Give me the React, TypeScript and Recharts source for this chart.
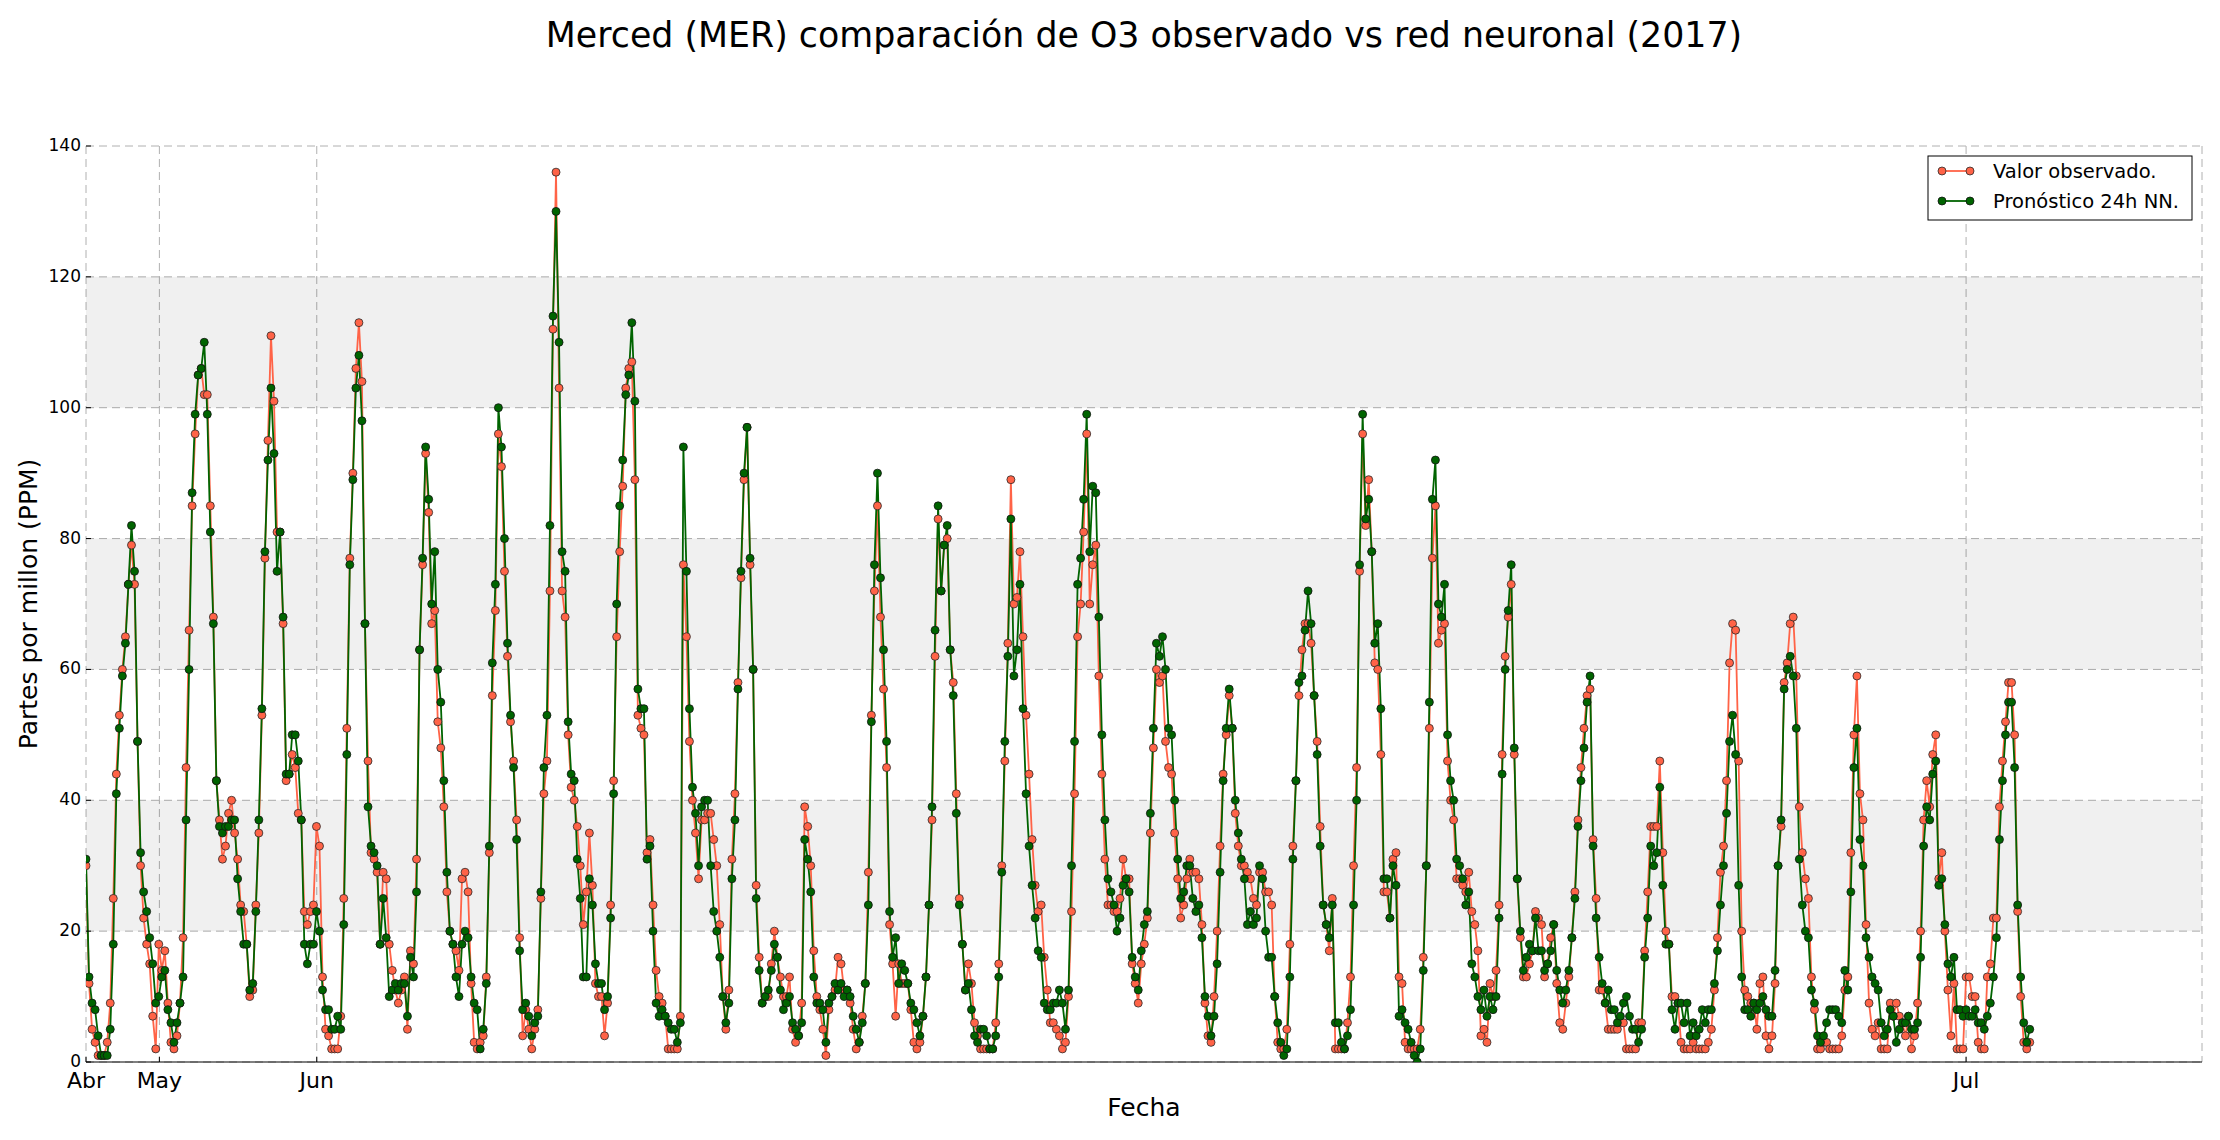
import React from 'react';
import { LineChart, Line, XAxis, YAxis, CartesianGrid, ReferenceArea } from 'recharts';

// Observed O3 (Valor observado.)
const observed: number[] = [
  30,12,5,3,1,1,1,3,9,25,
  44,53,60,65,73,79,73,49,30,22,
  18,15,7,2,18,14,17,9,3,
  2,4,9,19,45,66,85,96,105,106,
  102,102,85,68,43,37,31,33,38,40,
  35,31,24,23,18,10,11,24,
  35,53,77,95,111,101,81,81,67,43,44,47,45,38,37,
  23,21,23,24,36,33,13,5,4,2,2,2,7,
  25,51,77,90,106,113,104,67,46,32,
  31,29,18,29,28,18,14,11,9,
  11,13,5,17,15,31,63,76,93,84,
  67,69,52,48,39,26,20,18,17,14,
  28,29,26,12,3,2,3,4,13,32,
  56,69,96,91,75,62,52,46,37,19,
  4,8,5,2,5,8,25,41,46,72,
  112,136,103,72,68,50,42,40,36,30,
  21,26,35,27,12,10,10,4,9,24,
  43,65,78,88,103,106,107,89,53,51,
  50,32,34,24,14,10,9,7,2,2,
  2,2,7,76,65,49,40,35,28,37,
  37,38,38,34,30,21,10,5,11,31,
  41,
  58,74,89,97,76,60,27,16,9,10,
  10,15,20,16,13,10,10,13,5,3,
  4,9,39,36,30,17,10,8,5,1,
  8,10,11,16,15,11,11,9,5,2,
  3,7,12,29,53,72,85,68,57,45,
  21,15,7,15,12,12,12,8,3,2,
  3,7,13,24,37,62,83,72,79,80,
  63,
  58,41,25,18,11,15,12,6,4,2,
  2,2,2,2,6,15,30,46,64,89,
  70,71,78,65,53,44,34,27,23,24,
  16,11,6,6,5,4,2,3,10,23,
  41,65,70,81,96,70,76,79,59,44,
  31,24,24,23,23,25,31,28,28,15,
  12,9,15,18,22,35,48,60,
  58,59,49,45,44,35,28,22,24,28,
  31,29,29,28,21,9,4,3,10,20,
  33,44,50,56,51,38,33,30,30,29,
  28,25,24,29,29,26,26,24,10,3,
  2,2,5,18,33,43,56,63,67,67,
  64,56,49,36,24,21,17,25,2,2,
  2,2,6,13,30,45,75,96,82,89,
  78,61,60,47,26,
  26,22,31,32,13,12,3,2,2,2,
  2,5,16,30,51,77,85,64,66,67,
  46,40,37,28,28,27,26,29,23,21,
  17,4,5,3,12,10,14,24,47,62,
  68,73,47,28,19,13,13,15,17,23,
  22,21,13,15,19,21,12,6,5,9,
  13,19,26,37,45,51,56,57,34,25,
  11,
  11,9,5,5,5,5,6,6,2,2,
  2,2,6,6,17,26,36,36,36,46,
  32,20,18,10,10,9,3,2,2,2,
  3,2,2,2,2,3,5,11,19,29,
  33,43,61,67,66,46,20,11,10,9,9,
  5,12,13,4,2,4,12,30,36,58,
  61,67,68,59,39,32,28,25,
  13,8,2,2,3,3,2,2,2,2,
  4,11,13,32,50,59,41,37,21,9,
  5,4,6,2,2,2,9,7,9,7,6,
  4,7,2,4,9,20,37,43,39,47,
  50,28,32,20,11,4,12,2,2,2,13,
  13,10,10,3,2,2,13,15,22,22,
  39,46,52,58,58,50,23,10,3,
  2,3,
];

// 24h neural network forecast (Pronóstico 24h NN.)
const forecast: number[] = [
  31,13,9,8,4,1,1,1,5,18,
  41,51,59,64,73,82,75,49,32,26,
  23,19,15,9,10,13,14,8,6,
  3,6,9,13,37,60,87,99,105,106,
  110,99,81,67,43,36,35,36,36,37,
  37,28,23,18,18,11,12,23,
  37,54,78,92,103,93,75,81,68,44,44,50,50,46,37,
  18,15,18,18,23,20,11,8,8,5,5,7,5,
  21,47,76,89,103,108,98,67,39,33,
  32,30,18,25,19,10,11,12,11,
  12,12,7,16,13,26,63,77,94,86,
  70,78,60,55,43,29,20,18,13,10,
  18,20,19,13,9,8,2,5,12,33,
  61,73,100,94,80,64,53,45,34,17,
  8,9,7,4,6,7,26,45,53,82,
  114,130,110,78,75,52,44,43,31,25,
  13,13,28,24,15,12,12,8,10,22,
  41,70,85,92,102,105,113,101,57,54,
  54,31,33,20,9,7,8,7,6,5,
  5,3,6,94,75,54,42,38,30,39,
  40,40,30,23,20,16,10,6,9,28,
  37,
  57,75,90,97,77,60,25,14,9,10,
  11,14,18,16,11,8,9,10,6,5,
  4,6,34,31,26,13,9,9,8,3,
  9,10,12,11,12,10,11,10,7,5,
  3,6,12,24,52,76,90,74,63,49,
  23,16,19,12,15,14,12,9,8,6,
  4,7,13,24,39,66,85,72,79,82,
  63,
  56,38,24,18,11,12,8,4,3,5,
  5,4,2,2,4,13,29,49,62,83,
  59,63,73,54,41,33,27,22,17,16,
  9,8,8,9,9,11,9,5,11,30,
  49,73,77,86,99,78,88,87,68,50,
  37,28,26,24,20,22,27,28,26,16,
  13,11,17,21,23,38,51,64,
  62,65,60,51,50,40,31,25,26,30,
  30,25,23,24,19,10,7,4,7,15,
  29,43,51,57,51,40,35,31,28,21,
  23,21,22,30,28,20,16,16,10,6,
  3,1,2,13,31,43,58,59,66,72,
  67,56,47,33,24,21,19,24,6,6,
  3,2,4,8,24,40,76,99,83,86,
  78,64,67,54,28,
  28,22,30,27,7,8,6,5,3,1,
  0,2,14,30,55,86,92,70,68,73,
  50,43,40,31,30,28,24,26,15,13,
  10,8,11,7,10,8,10,22,44,60,
  69,76,48,28,20,14,16,18,17,22,
  17,17,14,15,17,21,14,11,9,11,
  14,19,25,36,43,48,55,59,33,22,
  16,
  12,9,11,8,8,6,7,9,10,7,
  5,5,3,5,16,22,33,30,32,42,
  27,18,18,8,5,9,9,6,9,4,
  6,4,5,8,6,8,8,12,17,24,
  30,38,49,53,47,27,13,8,8,7,9,
  8,9,10,8,7,7,14,30,37,57,
  60,62,59,51,31,24,20,19,
  11,9,4,3,4,6,8,8,8,7,
  6,14,11,26,45,51,34,30,19,16,
  13,12,11,6,4,5,8,7,3,5,6,
  6,7,5,5,6,16,33,39,37,44,
  46,27,28,21,15,13,16,8,8,7,8,
  7,7,8,6,6,5,7,9,13,19,
  34,43,50,55,55,45,24,13,6,
  3,5,
];

const monthLabels = ['Abr', 'May', 'Jun', 'Jul'];
const monthTicks = [0, 24.2, 76.1, 620];
const xMax = 697.8;
const yTicks = [0, 20, 40, 60, 80, 100, 120, 140];
const bandLow = [20, 60, 100];
const bandHigh = [40, 80, 120];

const data = observed.map((v, i) => ({ i, obs: v, pred: forecast[i] }));

const W = 2204;
const H = 1124;
const PL = 78;
const PR = 2194;
const PT = 138;
const PB = 1054;
const FONT = '"DejaVu Sans", Verdana, sans-serif';
const OBS_COLOR = '#ff6347';
const PRED_COLOR = '#006400';

const YTick = (props: any) => {
  const { y, payload } = props;
  return (
    <g>
      <line x1={PL} x2={PL + 5} y1={y} y2={y} stroke="#000" strokeWidth={1} />
      <text x={PL - 5} y={y + 5} textAnchor="end" fontSize={17} fontFamily={FONT} fill="#000">
        {payload.value}
      </text>
    </g>
  );
};

const XTick = (props: any) => {
  const { x, payload } = props;
  const idx = monthTicks.indexOf(payload.value);
  return (
    <g>
      <line x1={x} x2={x} y1={PB} y2={PB - 5} stroke="#000" strokeWidth={1} />
      <text x={x} y={PB + 26} textAnchor="middle" fontSize={22} fontFamily={FONT} fill="#000">
        {monthLabels[idx]}
      </text>
    </g>
  );
};

export default function App() {
  const legendX = 1920;
  const legendY = 148;
  return (
    <div style={{ position: 'relative', width: W, height: H, background: '#fff' }}>
      <LineChart
        width={W}
        height={H}
        data={data}
        margin={{ top: PT, right: W - PR, bottom: 0, left: 0 }}
      >
        <CartesianGrid stroke="#b0b0b0" strokeDasharray="8 5" strokeWidth={1} />
        {bandLow.map((lo, k) => (
          <ReferenceArea
            key={k}
            y1={lo}
            y2={bandHigh[k]}
            x1={0}
            x2={xMax}
            fill="#000"
            fillOpacity={0.059}
            stroke="none"
            ifOverflow="visible"
          />
        ))}
        <XAxis
          dataKey="i"
          type="number"
          domain={[0, xMax]}
          ticks={monthTicks}
          interval={0}
          height={H - PB}
          tick={<XTick />}
          tickLine={false}
          axisLine={{ stroke: '#000', strokeWidth: 1 }}
          allowDataOverflow
        />
        <YAxis
          type="number"
          domain={[0, 140]}
          ticks={yTicks}
          interval={0}
          width={PL}
          tick={<YTick />}
          tickLine={false}
          axisLine={false}
          allowDataOverflow
        />
        <Line
          type="linear"
          dataKey="obs"
          stroke={OBS_COLOR}
          strokeWidth={1.8}
          dot={{ r: 4, fill: OBS_COLOR, stroke: '#2a2a2a', strokeWidth: 0.8 }}
          activeDot={false}
          isAnimationActive={false}
        />
        <Line
          type="linear"
          dataKey="pred"
          stroke={PRED_COLOR}
          strokeWidth={1.8}
          dot={{ r: 4, fill: PRED_COLOR, stroke: '#111', strokeWidth: 0.8 }}
          activeDot={false}
          isAnimationActive={false}
        />
      </LineChart>
      <svg
        width={W}
        height={H}
        style={{ position: 'absolute', left: 0, top: 0, pointerEvents: 'none' }}
      >
        <text x={(PL + PR) / 2} y={39} textAnchor="middle" fontSize={34.8} fontFamily={FONT} fill="#000">
          Merced (MER) comparación de O3 observado vs red neuronal (2017)
        </text>
        <text x={(PL + PR) / 2} y={1108} textAnchor="middle" fontSize={25} fontFamily={FONT} fill="#000">
          Fecha
        </text>
        <text
          transform={`translate(29, ${(PT + PB) / 2}) rotate(-90)`}
          textAnchor="middle"
          fontSize={25}
          fontFamily={FONT}
          fill="#000"
        >
          Partes por millon (PPM)
        </text>
        <rect x={legendX} y={legendY} width={264} height={64} fill="#fff" stroke="#000" strokeWidth={1} />
        <line x1={legendX + 14} x2={legendX + 42} y1={legendY + 15} y2={legendY + 15} stroke={OBS_COLOR} strokeWidth={1.8} />
        <circle cx={legendX + 14} cy={legendY + 15} r={4} fill={OBS_COLOR} stroke="#2a2a2a" strokeWidth={0.8} />
        <circle cx={legendX + 42} cy={legendY + 15} r={4} fill={OBS_COLOR} stroke="#2a2a2a" strokeWidth={0.8} />
        <text x={legendX + 65} y={legendY + 22} fontSize={19.5} fontFamily={FONT} fill="#000">
          Valor observado.
        </text>
        <line x1={legendX + 14} x2={legendX + 42} y1={legendY + 45} y2={legendY + 45} stroke={PRED_COLOR} strokeWidth={1.8} />
        <circle cx={legendX + 14} cy={legendY + 45} r={4} fill={PRED_COLOR} stroke="#111" strokeWidth={0.8} />
        <circle cx={legendX + 42} cy={legendY + 45} r={4} fill={PRED_COLOR} stroke="#111" strokeWidth={0.8} />
        <text x={legendX + 65} y={legendY + 52} fontSize={19.5} fontFamily={FONT} fill="#000">
          Pronóstico 24h NN.
        </text>
      </svg>
    </div>
  );
}
